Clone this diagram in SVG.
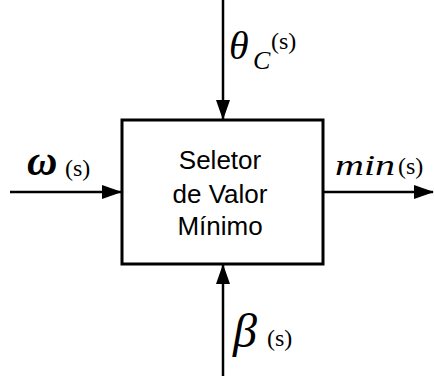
<svg xmlns="http://www.w3.org/2000/svg" width="434" height="376" viewBox="0 0 434 376">
<style>
.ln{stroke:#000;stroke-width:2.5;fill:none}
.box{stroke:#000;stroke-width:3;fill:#fff}
.lbl{font-family:'Liberation Sans',Arial,sans-serif;font-size:26px;fill:#000}
.sym{font-family:'Liberation Serif','Times New Roman','Liberation Sans',serif;font-style:italic;fill:#000}
.par{font-family:'Liberation Serif','Times New Roman','Liberation Sans',serif;font-size:24px;fill:#000}
</style>
<defs>
<marker id="ah" markerUnits="userSpaceOnUse" markerWidth="20" markerHeight="14" viewBox="0 0 20 14" refX="19" refY="7" orient="auto">
<path d="M0,0 L20,7 L0,14 Z" fill="#000"/>
</marker>
</defs>
<g id="connectors">
<line class="ln" x1="10" y1="192" x2="121" y2="192" marker-end="url(#ah)"/>
<line class="ln" x1="223" y1="0" x2="223" y2="119" marker-end="url(#ah)"/>
<line class="ln" x1="223" y1="376" x2="223" y2="265" marker-end="url(#ah)"/>
<line class="ln" x1="323" y1="192" x2="433" y2="192" marker-end="url(#ah)"/>
</g>
<g id="selector">
<rect class="box" x="122" y="120" width="201" height="144"/>
<text class="lbl" x="220" y="169" text-anchor="middle">Seletor</text>
<text class="lbl" x="220" y="203" text-anchor="middle">de Valor</text>
<text class="lbl" x="220" y="235" text-anchor="middle">Mínimo</text>
</g>
<g id="omega-label">
<text class="sym" x="27" y="175" style="font-size:42px;font-weight:bold">ω</text>
<text class="par" x="65" y="176">(s)</text>
</g>
<g id="theta-label">
<text class="sym" x="229" y="59" style="font-size:40px">θ</text>
<text class="sym" x="253" y="69" style="font-size:26px">C</text>
<text class="par" x="271" y="49">(s)</text>
</g>
<g id="min-label">
<text class="sym" x="335" y="175" style="font-size:30px" textLength="60" lengthAdjust="spacingAndGlyphs">min</text>
<text class="par" x="398" y="174">(s)</text>
</g>
<g id="beta-label">
<text class="sym" x="233" y="347" style="font-size:48px">β</text>
<text class="par" x="267" y="346">(s)</text>
</g>
</svg>
